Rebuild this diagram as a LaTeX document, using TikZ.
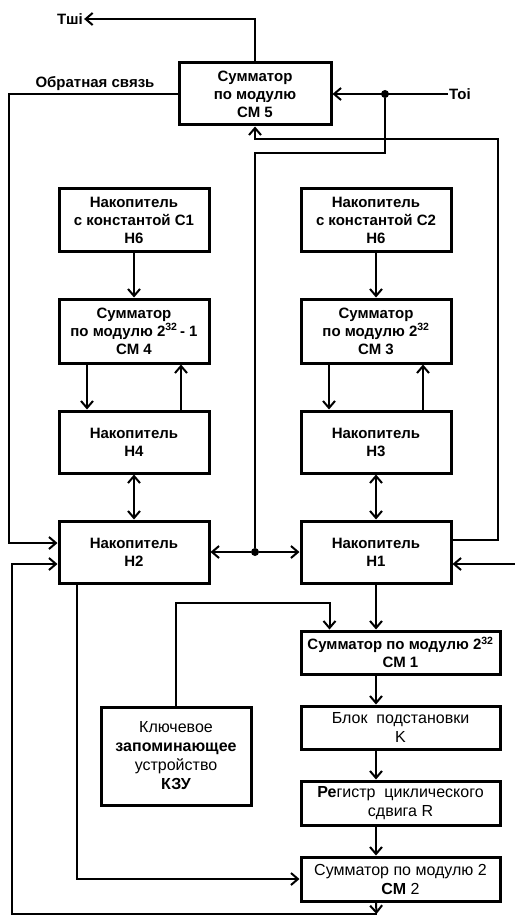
\documentclass[tikz,border=0pt]{standalone}
\usepackage{fontspec}
\setmainfont{Liberation Sans}
\usepackage{tikz}
\usetikzlibrary{arrows.meta,positioning}
\tikzset{
block_top/.style={rectangle, draw, line width=3pt, minimum width=150pt, minimum height=62pt, inner sep=0pt, align=center, font=\fontsize{15}{18}\selectfont\bfseries},
block_low/.style={rectangle, draw, line width=3pt, minimum width=199pt, minimum height=43pt, inner sep=0pt, align=center, font=\fontsize{16}{19}\selectfont},
link/.style={line width=2pt, -{Straight Barb[length=7pt,width=12pt,line width=2pt]}},
both_link/.style={line width=2pt, {Straight Barb[length=7pt,width=12pt,line width=2pt]}-{Straight Barb[length=7pt,width=12pt,line width=2pt]}},
plain_link/.style={line width=2pt},
join_dot/.style={circle, fill=black, inner sep=0pt, minimum size=8pt},
side_text/.style={inner sep=1pt, font=\fontsize{15}{17}\selectfont\bfseries}
}

\begin{document}
\begin{tikzpicture}[x=1pt,y=-1pt]
    \useasboundingbox (0,0) rectangle (514,917);
    % top adder
    \node[block_top, minimum width=152pt] (cm_5) at (255,94) {Сумматор\\по модулю\\СМ 5};
    \node[side_text] (t_out) at (70,19) {Тші};
    \node[side_text] (t_in) at (460,94) {Тоі};
    \node[side_text] (fb_text) at (95,84) {Обратная связь};
    % left column
    \node[block_top] (h6_l) at (134,220) {Накопитель\\с константой С1\\Н6};
    \node[block_top, minimum height=64pt] (cm_4) [below=45pt of h6_l] {Сумматор\\по модулю 2\textsuperscript{32}\,- 1\\СМ 4};
    \node[block_top] (h_4) [below=45pt of cm_4] {Накопитель\\Н4};
    \node[block_top] (h_2) [below=45pt of h_4] {Накопитель\\Н2};
    % right column
    \node[block_top] (h6_r) [right=89pt of h6_l] {Накопитель\\с константой С2\\Н6};
    \node[block_top, minimum height=64pt] (cm_3) [below=45pt of h6_r] {Сумматор\\по модулю 2\textsuperscript{32}\\СМ 3};
    \node[block_top] (h_3) [below=45pt of cm_3] {Накопитель\\Н3};
    \node[block_top] (h_1) [below=45pt of h_3] {Накопитель\\Н1};
    % lower chain
    \node[block_low, font=\fontsize{15}{18}\selectfont\bfseries] (cm_1) [below right=45pt and 0pt of h_1.south west] {Сумматор по модулю 2\textsuperscript{32}\\СМ 1};
    \node[block_low] (k_block) [below=29pt of cm_1] {Блок\ \ подстановки\\K};
    \node[block_low, minimum height=44pt] (r_block) [below=29pt of k_block] {\textbf{Ре}гистр\ \ циклического\\сдвига R};
    \node[block_low, minimum height=44pt] (cm_2) [below=29pt of r_block] {Сумматор по модулю 2\\\textbf{СМ} 2};
    \node[block_top, minimum height=98pt, font=\fontsize{16}{19}\selectfont] (kzu) at (176,756) {Ключевое\\\textbf{запоминающее}\\устройство\\\textbf{КЗУ}};

    \node[join_dot] (dot_top) at (385,94) {};
    \node[join_dot] (dot_mid) at (h_2 -| cm_5) {};
    \coordinate (bend_1) at (255,153);
    \coordinate (fb_right) at (498,139);
    \coordinate (key_top) at (329.5,603);
    \coordinate (loop_low) at (376.5,914);
    \coordinate (loop_left) at (12,914);

    % around the top adder
    \draw[link] (cm_5.north) |- (t_out.east);
    \draw[link] (cm_5.west) -- ++(-169,0) |- ([yshift=9pt]h_2.west);
    \draw[link] (t_in.west) -- (cm_5.east);
    \draw[plain_link] (dot_top) |- (bend_1) -- (dot_mid);
    \draw[link] ([yshift=12pt]h_1.east) -| (fb_right) -| (cm_5.south);
    \draw[link] (dot_mid) -- (h_2.east);
    \draw[link] (dot_mid) -- (h_1.west);
    \draw[link] ([yshift=-12pt,xshift=62pt]h_1.east) -- ([yshift=-12pt]h_1.east);

    % left column links
    \draw[link] (h6_l) -- (cm_4);
    \draw[link] ([xshift=-47pt]cm_4.south) -- ([xshift=-47pt]h_4.north);
    \draw[link] ([xshift=47pt]h_4.north) -- ([xshift=47pt]cm_4.south);
    \draw[both_link] (h_4) -- (h_2);

    % right column links
    \draw[link] (h6_r) -- (cm_3);
    \draw[link] ([xshift=-47pt]cm_3.south) -- ([xshift=-47pt]h_3.north);
    \draw[link] ([xshift=47pt]h_3.north) -- ([xshift=47pt]cm_3.south);
    \draw[both_link] (h_3) -- (h_1);

    % lower chain links
    \draw[link] (h_1.south) -- (h_1.south |- cm_1.north);
    \draw[link] (kzu.north) |- (key_top) -- (key_top |- cm_1.north);
    \draw[link] (cm_1.south -| h_1.south) -- (k_block.north -| h_1.south);
    \draw[link] (k_block.south -| h_1.south) -- (r_block.north -| h_1.south);
    \draw[link] (r_block.south -| h_1.south) -- (cm_2.north -| h_1.south);
    \draw[link] ([xshift=-57pt]h_2.south) |- (cm_2.west);
    \draw[link] (cm_2.south -| h_1.south) -- (loop_low);
    \draw[link] (loop_low) -- (loop_left) |- ([yshift=-12pt]h_2.west);
\end{tikzpicture}
\end{document}
